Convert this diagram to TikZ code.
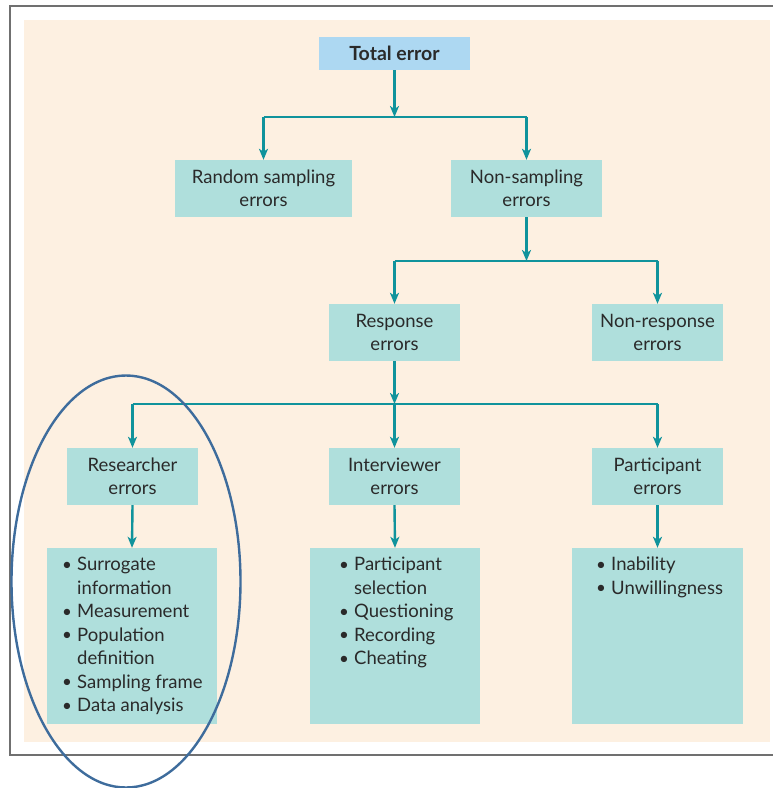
\documentclass[tikz,border=0pt]{standalone}
\usepackage{fontspec}
\setmainfont{Lato}
\usetikzlibrary{arrows.meta}
\definecolor{cream}{HTML}{FDF0E1}
\definecolor{boxfill}{HTML}{AFDFDC}
\definecolor{topfill}{HTML}{ADD8F2}
\definecolor{flow}{HTML}{10939C}
\definecolor{ring}{HTML}{3E6C9C}
\definecolor{frame}{HTML}{707070}
\definecolor{ink}{HTML}{2A2A2A}
\tikzset{
  box/.style={fill=boxfill, draw=none, minimum height=57pt, align=center,
    text=ink, font=\fontsize{18.5}{23.5}\selectfont, inner sep=0pt},
  listbox/.style={fill=boxfill, draw=none, minimum width=170pt, minimum height=176pt,
    inner sep=0pt},
  listtext/.style={anchor=north west, align=left, text=ink,
    font=\fontsize{18.5}{23.5}\selectfont, inner sep=0pt},
  link/.style={draw=flow, line width=2.4pt},
  arr/.style={link, -{Stealth[length=11pt,width=9pt,inset=3pt]}},
}
\newcommand{\itm}{\makebox[15pt][l]{\raisebox{0.5pt}{\fontsize{17}{17}\selectfont\textbullet}}}
\newcommand{\cnt}{\hspace*{15pt}}
\begin{document}
\begin{tikzpicture}[x=1pt,y=-1pt]
  \useasboundingbox (0,0) rectangle (773,788);
  % page frame and tinted panel
  \fill[cream] (24,20) rectangle (770,742);
  \draw[frame, line width=1.5pt] (773,6) -- (10,6) -- (10,755) -- (773,755);

  % category boxes
  \node[box, fill=topfill, minimum width=151pt, minimum height=33pt,
        font=\fontsize{19.5}{20}\selectfont\bfseries] (total) at (394.5,53.5) {Total error};
  \node[box, minimum width=177pt] (rand) at (263.5,188.5) {Random sampling\\errors};
  \node[box, minimum width=151pt] (nons) at (526.5,188.5) {Non-sampling\\errors};
  \node[box, minimum width=131pt] (resp) at (394.5,332.5) {Response\\errors};
  \node[box, minimum width=131pt] (nonr) at (657.5,332.5) {Non-response\\errors};
  \node[box, minimum width=131pt] (rsch) at (132.5,476.5) {Researcher\\errors};
  \node[box, minimum width=131pt] (intv) at (394.5,476.5) {Interviewer\\errors};
  \node[box, minimum width=131pt] (part) at (657.5,476.5) {Participant\\errors};

  % detail lists
  \node[listbox] (rlist) at (132,636) {};
  \node[listbox] (ilist) at (395,636) {};
  \node[listbox, minimum width=171pt] (plist) at (657.5,636) {};
  \node[listtext] (rtext) at (62,557) {\itm Surrogate\\\cnt information\\\itm Measurement\\\itm Population\\\cnt definition\\\itm Sampling frame\\\itm Data analysis};
  \node[listtext] (itext) at (339,557) {\itm Participant\\\cnt selection\\\itm Questioning\\\itm Recording\\\itm Cheating};
  \node[listtext] (ptext) at (596,557) {\itm Inability\\\itm Unwillingness};

  % branch points
  \coordinate (j1) at (394.5,117);
  \coordinate (j2) at (526.5,261);
  \coordinate (j3) at (394.5,404);

  % connectors
  \draw[arr] (total.south) -- (j1);
  \draw[link] (j1 -| rand.north) -- (j1 -| nons.north);
  \draw[arr] (j1 -| rand.north) -- (rand.north);
  \draw[arr] (j1 -| nons.north) -- (nons.north);

  \draw[arr] (nons.south) -- (j2);
  \draw[link] (j2 -| resp.north) -- (j2 -| nonr.north);
  \draw[arr] (j2 -| resp.north) -- (resp.north);
  \draw[arr] (j2 -| nonr.north) -- (nonr.north);

  \draw[arr] (resp.south) -- (j3);
  \draw[link] (j3 -| rsch.north) -- (j3 -| part.north);
  \draw[arr] (j3 -| rsch.north) -- (rsch.north);
  \draw[arr] (j3) -- (intv.north);
  \draw[arr] (j3 -| part.north) -- (part.north);

  \draw[arr] (rsch.south) -- (rlist.north);
  \draw[arr] (intv.south) -- (ilist.north);
  \draw[arr] (part.south) -- (plist.north);

  % highlight ring
  \draw[ring, line width=2.4pt] (126,581.5) ellipse [x radius=114.5, y radius=206];
\end{tikzpicture}
\end{document}
